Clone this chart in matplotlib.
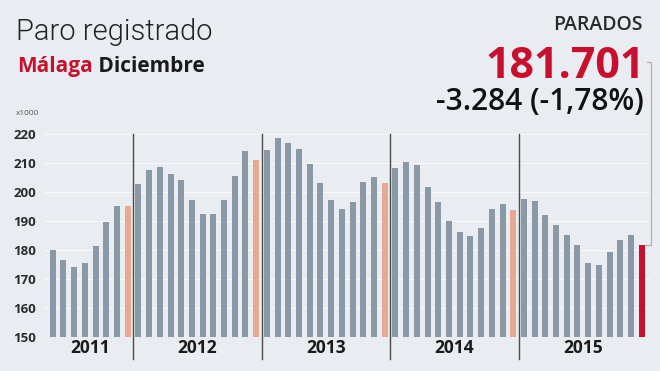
import matplotlib.pyplot as plt


years = ["2011", "2012", "2013", "2014", "2015"]
first_month = 5  # series starts in May 2011

paro_2011 = [179.8, 176.6, 174.2, 175.4, 181.2, 189.5, 195.1, 195.3]
paro_2012 = [202.7, 207.6, 208.6, 206.2, 204.1, 197.4, 192.3, 192.3, 197.3, 205.5, 214.2, 211.1]
paro_2013 = [214.7, 218.6, 217.0, 214.9, 209.7, 203.0, 197.2, 194.0, 196.5, 203.4, 205.1, 203.0]
paro_2014 = [208.5, 210.3, 209.3, 201.7, 196.7, 190.0, 186.3, 184.9, 187.7, 194.0, 196.0, 193.9]
paro_2015 = [197.5, 196.9, 192.1, 188.6, 185.3, 181.6, 175.6, 174.7, 179.2, 183.3, 184.985, 181.701]

y_ticks = [150, 160, 170, 180, 190, 200, 210, 220]

bg = "#e9edf1"
bar_grey = "#8a99a6"
bar_dec = "#e8a892"
red = "#c8102e"

series = [paro_2011, paro_2012, paro_2013, paro_2014, paro_2015]
values = []
months = []
for i, s in enumerate(series):
    start = first_month if i == 0 else 1
    for k, v in enumerate(s):
        values.append(v)
        months.append(start + k)

colors = []
for m in months:
    colors.append(bar_dec if m == 12 else bar_grey)
colors[-1] = red

plt.rcParams["font.family"] = ["Open Sans", "DejaVu Sans"]

fig = plt.figure(figsize=(6.6, 3.71), dpi=100, facecolor=bg)
ax = fig.add_axes([0.0677, 0.0927, 0.9168, 0.5453], facecolor=bg)

x = list(range(len(values)))
ax.bar(x, [v - 150 for v in values], bottom=150, width=0.56, color=colors, zorder=2)

ax.set_xlim(-0.75, len(values) - 0.25)
ax.set_ylim(150, 220)
ax.set_yticks(y_ticks)
ax.set_yticklabels([str(t) for t in y_ticks], fontsize=9.5, fontweight="bold", color="#2b2b2b")
ax.tick_params(axis="y", length=0, pad=6)
ax.set_xticks([])
for sp in ax.spines.values():
    sp.set_visible(False)
for t in y_ticks[1:]:
    ax.axhline(t, color="#f7f9fb", lw=0.8, zorder=1)

# year separators and labels
pos = 0
for i, s in enumerate(series):
    center = pos + (len(s) - 1) / 2
    ax.text(center, -0.056, years[i], transform=ax.get_xaxis_transform(),
            ha="center", va="center", fontsize=12.5, fontweight="bold", color="#1a1a1a")
    if i > 0:
        ax.plot([pos - 0.5, pos - 0.5], [-0.111, 1.0], transform=ax.get_xaxis_transform(),
                color="#4a4a4a", lw=1, clip_on=False, zorder=3)
    pos += len(s)

# bracket linking the headline figure to the last bar
last = len(values) - 1
ax.plot([last + 0.3, last + 0.82, last + 0.82, last + 0.45],
        [values[-1], values[-1], 245.1, 245.1],
        color="#d3a3aa", lw=0.9, clip_on=False, zorder=3)

ax.text(-0.048, 1.105, "x1000", transform=ax.transAxes, fontsize=6, color="#555555", va="center")

fig.text(16 / 660, 1 - 40 / 371, "Paro registrado", fontsize=21, fontweight=300,
         family=["Roboto", "DejaVu Sans"], color="#222222", va="baseline")

t1 = fig.text(17 / 660, 1 - 72 / 371, "Málaga", fontsize=15, fontweight="bold",
              color=red, va="baseline")
ax.annotate(" Diciembre", xy=(1, 0), xycoords=t1, va="bottom", ha="left",
            fontsize=15, fontweight="bold", color="#1a1a1a", annotation_clip=False)

fig.text(643 / 660, 1 - 30 / 371, "PARADOS", fontsize=14, color="#2a2a2a",
         fontweight=600, ha="right", va="baseline")
fig.text(645 / 660, 1 - 78 / 371, "181.701", fontsize=31, fontweight="bold", color=red,
         ha="right", va="baseline")
fig.text(644 / 660, 1 - 110 / 371, "-3.284 (-1,78%)", fontsize=21.5, fontweight=600,
         color="#111111", ha="right", va="baseline")

fig.savefig("out.png", dpi=100, facecolor=bg)
